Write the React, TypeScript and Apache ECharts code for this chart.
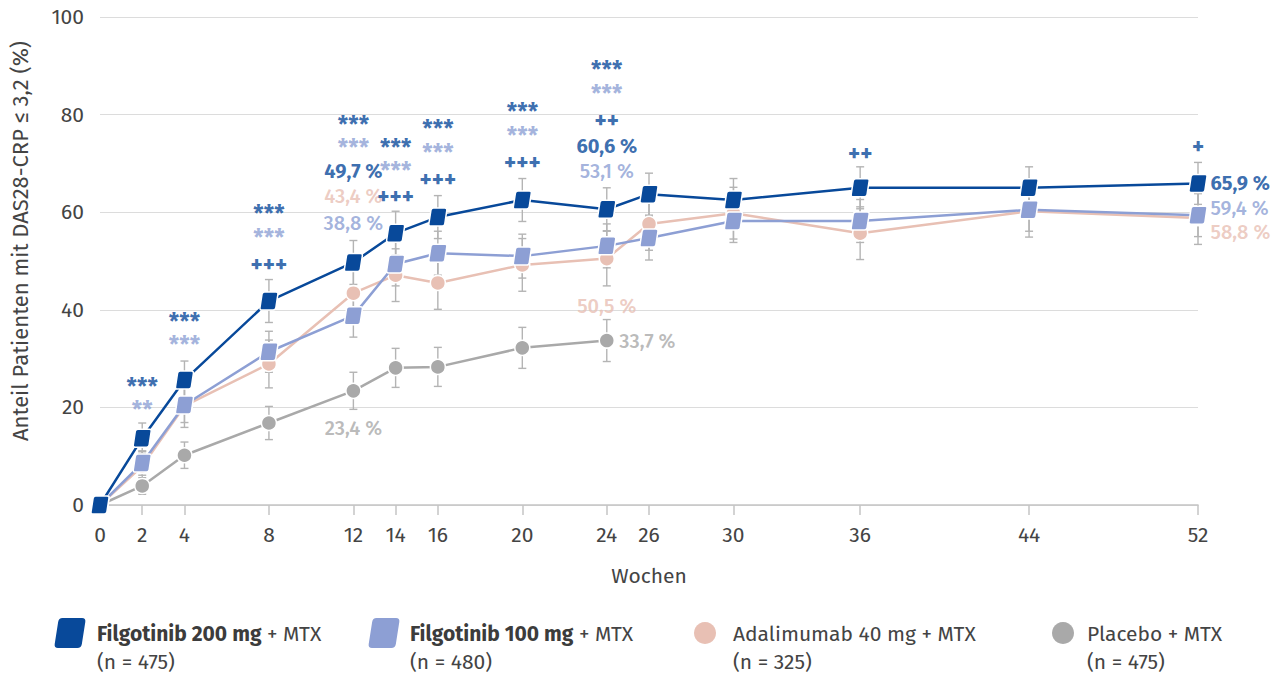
import React, { useEffect, useRef } from "react";
import * as echarts from "echarts";

// ---------- data ----------
const weeks = [0, 2, 4, 8, 12, 14, 16, 20, 24, 26, 30, 36, 44, 52];
const placeboWeeks = [0, 2, 4, 8, 12, 14, 16, 20, 24];
const yTicks = [0, 20, 40, 60, 80, 100];

const filgo200 = [0, 13.7, 25.6, 41.8, 49.7, 55.7, 59.0, 62.5, 60.6, 63.7, 62.5, 65.0, 65.0, 65.9];
const filgo100 = [0, 8.6, 20.5, 31.4, 38.8, 49.4, 51.6, 51.0, 53.1, 54.7, 58.2, 58.2, 60.5, 59.4];
const adalimumab = [0, 8.0, 20.3, 28.9, 43.4, 47.1, 45.5, 49.2, 50.5, 57.6, 59.8, 55.7, 60.2, 58.8];
const placebo = [0, 3.9, 10.2, 16.8, 23.4, 28.1, 28.3, 32.2, 33.7];

// half-width of the error bars
const err200 = [0, 3.1, 3.9, 4.4, 4.5, 4.5, 4.4, 4.4, 4.4, 4.3, 4.4, 4.3, 4.3, 4.3];
const err100 = [0, 2.5, 3.6, 4.2, 4.4, 4.5, 4.5, 4.5, 4.5, 4.5, 4.4, 4.4, 4.4, 4.4];
const errAda = [0, 3.0, 4.4, 4.9, 5.4, 5.4, 5.4, 5.4, 5.6, 5.4, 5.3, 5.4, 5.3, 5.4];
const errPbo = [0, 1.7, 2.7, 3.4, 3.8, 4.0, 4.0, 4.2, 4.3];

const seriesNames = ["Filgotinib 200 mg", "Filgotinib 100 mg", "Adalimumab 40 mg", "Placebo"];
const seriesN = [475, 480, 325, 475];

// ---------- styles ----------
const DARK = "#08499a";
const LIGHT = "#8d9fd4";
const PINK = "#e8c0b4";
const GREY = "#a9a9a9";
const TEXT = "#444444";
const FONT = "'Fira Sans', Roboto, 'Noto Sans', sans-serif";

// annotation texts: [week, y-value anchor, text, style key, alignment]
const annotations: [number, number, string, string, string][] = [
  [2, 24.2, "***", "d", "c"],
  [2, 19.5, "**", "l", "c"],
  [4, 37.5, "***", "d", "c"],
  [4, 32.8, "***", "l", "c"],
  [8, 59.6, "***", "d", "c"],
  [8, 54.7, "***", "l", "c"],
  [8, 49.4, "+++", "d", "c"],
  [12, 77.9, "***", "d", "c"],
  [12, 73.2, "***", "l", "c"],
  [12, 68.4, "49,7 %", "dv", "c"],
  [12, 63.3, "43,4 %", "pv", "c"],
  [12, 57.8, "38,8 %", "lv", "c"],
  [14, 73.2, "***", "d", "c"],
  [14, 68.5, "***", "l", "c"],
  [14, 63.3, "+++", "d", "c"],
  [16, 77.1, "***", "d", "c"],
  [16, 72.1, "***", "l", "c"],
  [16, 66.8, "+++", "d", "c"],
  [20, 80.5, "***", "d", "c"],
  [20, 75.6, "***", "l", "c"],
  [20, 70.3, "+++", "d", "c"],
  [24, 89.1, "***", "d", "c"],
  [24, 84.2, "***", "l", "c"],
  [24, 78.9, "++", "d", "c"],
  [24, 73.6, "60,6 %", "dv", "c"],
  [24, 68.4, "53,1 %", "lv", "c"],
  [24, 40.8, "50,5 %", "pv", "c"],
  [12, 15.8, "23,4 %", "gv", "c"],
  [24, 33.6, "33,7 %", "gv", "r"],
  [36, 72.1, "++", "d", "c"],
  [52, 73.6, "+", "d", "c"],
  [52, 66.0, "65,9 %", "dv", "r"],
  [52, 60.9, "59,4 %", "lv", "r"],
  [52, 55.9, "58,8 %", "pv", "r"],
];

const SKEW_D =
  "M5,0 L18,0 Q20.6,0 20.2,2.6 L17.9,17.4 Q17.5,20 14.9,20 L2,20 Q-0.6,20 -0.2,17.4 L2.1,2.6 Q2.5,0 5,0 Z";

echarts.graphic.registerShape("skewsq", echarts.graphic.extendPath(SKEW_D, {}) as any);

function errData(xs: number[], ys: number[], es: number[]) {
  const out: number[][] = [];
  xs.forEach((x, i) => {
    if (es[i] > 0) out.push([x, ys[i] - es[i], ys[i] + es[i]]);
  });
  return out;
}

function errSeries(xs: number[], ys: number[], es: number[]) {
  return {
    type: "custom",
    z: 1,
    silent: true,
    encode: { x: 0, y: [1, 2] },
    data: errData(xs, ys, es),
    renderItem: (params: any, api: any) => {
      const x = api.value(0);
      const lo = api.coord([x, api.value(1)]);
      const hi = api.coord([x, api.value(2)]);
      const w = 4;
      const st = { stroke: "#b4b4b4", lineWidth: 1.4 };
      return {
        type: "group",
        children: [
          { type: "line", shape: { x1: lo[0], y1: lo[1], x2: hi[0], y2: hi[1] }, style: st },
          { type: "line", shape: { x1: lo[0] - w, y1: lo[1], x2: lo[0] + w, y2: lo[1] }, style: st },
          { type: "line", shape: { x1: hi[0] - w, y1: hi[1], x2: hi[0] + w, y2: hi[1] }, style: st },
        ],
      };
    },
  };
}

function lineSeries(name: string, xs: number[], ys: number[], color: string, square: boolean, z: number) {
  return {
    type: "line",
    name,
    z,
    data: xs.map((x, i) => [x, ys[i]]),
    symbol: square ? "path://" + SKEW_D : "circle",
    symbolSize: square ? 18 : 15,
    showSymbol: true,
    lineStyle: { color, width: 2.5 },
    itemStyle: { color, borderColor: "#ffffff", borderWidth: 1.5 },
    emphasis: { disabled: true },
  };
}

const styleMap: Record<string, { color: string; weight: any; size: number; lh: number }> = {
  d: { color: DARK, weight: "bold", size: 23, lh: 16 },
  l: { color: LIGHT, weight: "bold", size: 23, lh: 16 },
  dv: { color: DARK, weight: "bold", size: 20, lh: 20 },
  lv: { color: LIGHT, weight: 500, size: 20, lh: 20 },
  pv: { color: PINK, weight: 500, size: 20, lh: 20 },
  gv: { color: GREY, weight: 500, size: 20, lh: 20 },
};

export default function App() {
  const ref = useRef<HTMLDivElement>(null);
  useEffect(() => {
    if (!ref.current) return;
    const chart = echarts.init(ref.current, undefined, { renderer: "svg" });

    const annData = annotations.map(([w, y, text, key, al]) => {
      const c = styleMap[key];
      return {
        value: [w, y],
        label: {
          show: true,
          formatter: text,
          position: al === "r" ? "right" : "inside",
          distance: 12,
          color: c.color,
          fontWeight: c.weight,
          fontSize: c.size,
          lineHeight: c.lh,
          fontFamily: FONT,
        },
      };
    });

    const legendX = [55, 369, 694, 1052];
    const legendTextX = [97, 410, 733, 1087];
    const legendColors = [DARK, LIGHT, PINK, GREY];
    const legendGraphics: any[] = [];
    seriesNames.forEach((nm, i) => {
      if (i < 2) {
        legendGraphics.push({
          type: "skewsq",
          x: legendX[i],
          y: 618,
          scaleX: 1.5,
          scaleY: 1.5,
          style: { fill: legendColors[i] },
        });
      } else {
        legendGraphics.push({
          type: "circle",
          shape: { cx: legendX[i] + 11, cy: 633, r: 11 },
          style: { fill: legendColors[i] },
        });
      }
      legendGraphics.push({
        type: "text",
        x: legendTextX[i],
        y: 634,
        style: {
          text: i < 2 ? `{b|${nm}} + MTX` : `${nm} + MTX`,
          rich: { b: { fontWeight: "bold", fontSize: 21, fill: "#3c3c3c", fontFamily: FONT } },
          fill: TEXT,
          fontSize: 21,
          fontFamily: FONT,
          verticalAlign: "middle",
        },
      });
      legendGraphics.push({
        type: "text",
        x: legendTextX[i],
        y: 662,
        style: {
          text: `(n = ${seriesN[i]})`,
          fill: TEXT,
          fontSize: 21,
          fontFamily: FONT,
          verticalAlign: "middle",
        },
      });
    });

    chart.setOption({
      animation: false,
      textStyle: { fontFamily: FONT },
      grid: { left: 100, right: 80, top: 17, bottom: 170 },
      xAxis: {
        type: "value",
        min: 0,
        max: 52,
        name: "Wochen",
        nameLocation: "middle",
        nameGap: 60,
        nameTextStyle: { fontSize: 21, color: TEXT, fontFamily: FONT },
        axisLine: { show: true, lineStyle: { color: "#c4c4c4", width: 1.5 } },
        axisTick: { show: true, customValues: weeks, length: 10, lineStyle: { color: "#c4c4c4", width: 1.5 } },
        axisLabel: { customValues: weeks, fontSize: 21, color: TEXT, margin: 19, fontFamily: FONT },
        splitLine: { show: false },
      },
      yAxis: {
        type: "value",
        min: 0,
        max: 100,
        interval: 20,
        axisLine: { show: false },
        axisTick: { show: false },
        axisLabel: {
          fontSize: 21,
          color: TEXT,
          margin: 16,
          fontFamily: FONT,
          formatter: (v: number) => (yTicks.includes(v) ? String(v) : ""),
        },
        splitLine: { lineStyle: { color: "#dcdcdc", width: 1 } },
      },
      series: [
        errSeries(placeboWeeks, placebo, errPbo),
        errSeries(weeks, adalimumab, errAda),
        errSeries(weeks, filgo100, err100),
        errSeries(weeks, filgo200, err200),
        lineSeries(seriesNames[3], placeboWeeks, placebo, GREY, false, 2),
        lineSeries(seriesNames[2], weeks, adalimumab, PINK, false, 3),
        lineSeries(seriesNames[1], weeks, filgo100, LIGHT, true, 4),
        lineSeries(seriesNames[0], weeks, filgo200, DARK, true, 5),
        {
          type: "scatter",
          z: 6,
          silent: true,
          symbolSize: 1,
          itemStyle: { color: "rgba(0,0,0,0)" },
          data: annData,
        },
      ],
      graphic: [
        {
          type: "text",
          x: 20,
          y: 241,
          rotation: Math.PI / 2,
          style: {
            text: "Anteil Patienten mit DAS28-CRP ≤ 3,2 (%)",
            fill: TEXT,
            fontSize: 22,
            fontFamily: FONT,
            align: "center",
            verticalAlign: "middle",
          },
        },
        ...legendGraphics,
      ],
    });
    return () => chart.dispose();
  }, []);
  return <div ref={ref} style={{ width: 1278, height: 675, position: "absolute", left: 0, top: 0 }} />;
}
